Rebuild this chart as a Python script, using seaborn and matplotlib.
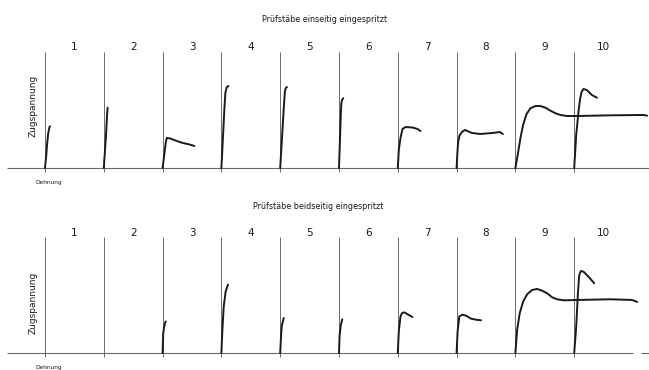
import matplotlib
matplotlib.use("Agg")
import matplotlib.pyplot as plt
import pandas as pd
import seaborn as sns

# Stress-strain traces of the test bars 1-10, one cell per bar.
# Dehnung: strain within the bar's own cell (cell width = 10),
# Zugspannung: stress relative to the guide-line height (= 100).
tests = list(range(1, 11))
number_labels = [str(t) for t in tests]

# Bars injected from one side
ein_dehnung = {
    1: [0, 0.2, 0.35, 0.55, 0.75, 0.85],
    2: [0, 0.2, 0.4, 0.55, 0.65],
    3: [0, 0.3, 0.55, 0.7, 1.2, 2.4, 3.4, 4.4, 5.4],
    4: [0, 0.17, 0.34, 0.51, 0.68, 0.9, 1.2],
    5: [0, 0.2, 0.4, 0.6, 0.8, 0.95, 1.15],
    6: [0, 0.1, 0.2, 0.3, 0.4, 0.55, 0.73],
    7: [0, 0.17, 0.46, 0.8, 1.31, 2.5, 3.35, 3.86],
    8: [0, 0.1, 0.25, 0.5, 0.9, 1.41, 2.6, 3.96, 6.17, 7.36, 7.87],
    9: [0, 0.39, 0.85, 1.31, 1.87, 2.55, 3.4, 4.25, 5.1, 5.95, 6.8, 7.65,
        8.79, 10.49, 16.16, 21.82, 22.4],
    10: [0, 0.34, 0.73, 1.02, 1.28, 1.58, 2.16, 3.01, 3.86],
}
ein_spannung = {
    1: [0, 10, 20, 30, 35, 36],
    2: [0, 15, 30, 45, 52],
    3: [0, 12, 22, 25.9, 25.6, 23.3, 21.6, 20.5, 19.0],
    4: [0, 17, 34, 51, 65, 69.5, 70.7],
    5: [0, 17, 34, 51, 66, 69, 69.8],
    6: [0, 15, 30, 45, 56, 59, 60.1],
    7: [0, 15.5, 25.9, 33.6, 35.3, 34.9, 33.6, 31.9],
    8: [0, 10, 22, 28, 31, 32.8, 30.2, 29.3, 30.2, 31.0, 29.3],
    9: [0, 11.2, 25.6, 37.1, 46.3, 51.5, 53.4, 53.4, 52.0, 49.4, 47.2, 45.7,
        44.8, 44.8, 45.4, 45.7, 45.1],
    10: [0, 28.4, 48.5, 60.1, 65.9, 68.1, 67.2, 62.9, 60.6],
}

# Bars injected from both sides (bars 1 and 2 without trace)
beid_dehnung = {
    3: [0, 0.11, 0.25, 0.4, 0.55],
    4: [0, 0.17, 0.4, 0.73, 1.12],
    5: [0, 0.17, 0.3, 0.61],
    6: [0, 0.1, 0.3, 0.56],
    7: [0, 0.17, 0.46, 0.74, 1.14, 1.6, 2.5],
    8: [0, 0.17, 0.46, 1.02, 1.59, 2.44, 3.3, 4.15],
    9: [0, 0.29, 0.73, 1.31, 1.99, 2.84, 3.69, 4.54, 5.39, 6.24, 7.09, 8.21,
        10.49, 16.16, 19.85, 20.7],
    10: [0, 0.34, 0.63, 0.85, 1.14, 1.58, 2.43, 3.4],
}
beid_spannung = {
    3: [0, 17, 22, 25.5, 27.2],
    4: [0, 20.1, 40.2, 53.2, 58.9],
    5: [0, 17.2, 24, 30.2],
    6: [0, 15, 24, 29],
    7: [0, 18.6, 31.6, 34.5, 35, 33.6, 31.0],
    8: [0, 18.6, 31.6, 33, 32.2, 29.6, 28.7, 28.2],
    9: [0, 19.8, 34.2, 44.2, 50.6, 54.3, 55.2, 53.7, 51.5, 48.0, 46.3, 45.4,
        45.7, 46.3, 45.7, 44.0],
    10: [0, 22.7, 51.5, 67.2, 70.7, 70.1, 65.8, 60.1],
}

titles = ["Prüfstäbe einseitig eingespritzt", "Prüfstäbe beidseitig eingespritzt"]
y_label = "Zugspannung"
x_label = "Dehnung"

CELL = 10.0
INK = "#1a1a1a"
GUIDE = "#6a6a6a"


def to_frame(dehnung, spannung):
    rows = []
    for t in dehnung:
        for d, s in zip(dehnung[t], spannung[t]):
            rows.append({"bar": t, "x": (t - 1) * CELL + d, "y": s})
    return pd.DataFrame(rows)


sns.set_theme(style="white")
plt.rcParams["font.family"] = ["DejaVu Sans"]
plt.rcParams["lines.solid_joinstyle"] = "round"
plt.rcParams["lines.solid_capstyle"] = "round"

fig = plt.figure(figsize=(6.49, 3.70), dpi=100)
fig.patch.set_facecolor("white")

panels = [
    (to_frame(ein_dehnung, ein_spannung), 0.5, titles[0], 47.6, 128.4, 104.3, 53.4, False),
    (to_frame(beid_dehnung, beid_spannung), 0.0, titles[1], 46.4, 125.9, 103.4, 43.5, True),
]

for df, y0, title, tx, ty, num_y, lab_y, split_base in panels:
    ax = fig.add_axes([0, y0, 1, 0.5])
    ax.set_xlim(-7.65, 102.72)
    ax.set_ylim(-14.66, 144.8)
    ax.axis("off")

    # base line (strain axis)
    if split_base:
        ax.hlines(0, -6.46, 100.0, color=GUIDE, lw=0.8)
        ax.hlines(0, 101.4, 102.7, color=GUIDE, lw=0.8)
    else:
        ax.hlines(0, -6.46, 102.7, color=GUIDE, lw=0.8)

    # stress guide line at the start of every bar's cell
    ax.vlines([(t - 1) * CELL for t in tests], -3.4, 100, color=GUIDE, lw=0.7)

    sns.lineplot(data=df, x="x", y="y", units="bar", estimator=None,
                 sort=False, color=INK, lw=1.4, ax=ax, legend=False)
    ax.set_xlabel("")
    ax.set_ylabel("")

    for t, lab in zip(tests, number_labels):
        ax.text((t - 1) * CELL + 5, num_y, lab, ha="center", va="center",
                fontsize=7.5, color=INK)

    ax.text(tx, ty, title, ha="center", va="center", fontsize=5.8, color=INK)
    ax.text(-2.04, lab_y, y_label, rotation=90, ha="center", va="center",
            fontsize=6.5, color=INK)
    ax.text(0.68, -12.6, x_label, ha="center", va="center", fontsize=4.2, color=INK)

fig.savefig("out.png", dpi=100, facecolor="white")
